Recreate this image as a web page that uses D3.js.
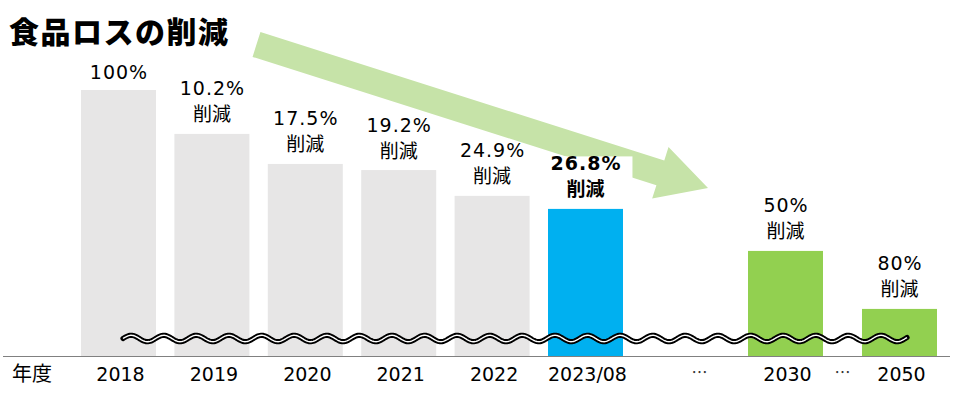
<!DOCTYPE html>
<html>
<head>
<meta charset="utf-8">
<script src="https://cdn.jsdelivr.net/npm/d3@7"></script>
<style>
  html, body { margin: 0; padding: 0; background: #fff; }
  svg { display: block; }
</style>
</head>
<body>
<svg id="chart" width="961" height="393"></svg>
<script>
// chart data
const categories = ["2018", "2019", "2020", "2021", "2022", "2023/08", "2030", "2050"];
const mainYears = ["2018", "2019", "2020", "2021", "2022", "2023/08"];
const tailYears = ["2030", "2050"];
// bar heights as drawn (index, 2018 = 100, the axis is broken)
const barIndex = [100, 83.5, 72.2, 69.9, 60.2, 55.3, 39.5, 17.7];
const labelTop = ["100%", "10.2%", "17.5%", "19.2%", "24.9%", "26.8%", "50%", "80%"];
const labelSub = ["", "削減", "削減", "削減", "削減", "削減", "削減", "削減"];
const barKind = ["past", "past", "past", "past", "past", "current", "target", "target"];
const title = "食品ロスの削減";
const axisTitle = "年度";
const gapMark = "…";

const colors = { past: "#e7e6e6", current: "#00b0f0", target: "#92d050" };
const latin = "'DejaVu Sans', 'Noto Sans CJK JP', sans-serif";
const cjk = "'Noto Sans CJK JP', sans-serif";

const svg = d3.select("#chart");
const baseY = 356;

// broken x axis: two band scales
const xMain = d3.scaleBand().domain(mainYears).range([81, 623]).paddingInner(0.197);
const xTail = d3.scaleBand().domain(tailYears).range([748, 937]).paddingInner(0.342);
const x = c => mainYears.includes(c) ? xMain(c) : xTail(c);
const bw = xMain.bandwidth();

const y = d3.scaleLinear().domain([0, 100]).range([baseY, 90]);

const rows = categories.map((c, i) => ({
  cat: c, v: barIndex[i], top: labelTop[i], sub: labelSub[i], kind: barKind[i]
}));

// title
svg.append("text")
  .attr("x", 9).attr("y", 43)
  .attr("font-family", cjk).attr("font-weight", 900)
  .attr("font-size", 30).attr("letter-spacing", 1.5)
  .attr("fill", "#000")
  .text(title);

// trend arrow (decoration)
const a0 = [256.5, 44.5], a1 = [708, 188];
const ang = Math.atan2(a1[1] - a0[1], a1[0] - a0[0]) * 180 / Math.PI;
const L = Math.hypot(a1[0] - a0[0], a1[1] - a0[1]);
const hw = 13, hh = 27, hl = 50;
svg.append("path")
  .attr("transform", `translate(${a0[0]},${a0[1]}) rotate(${ang})`)
  .attr("d", `M0,${-hw}L${L - hl},${-hw}L${L - hl},${-hh}L${L},0L${L - hl},${hh}L${L - hl},${hw}L0,${hw}Z`)
  .attr("fill", "#c6e3a8");

// bars
svg.append("g")
  .selectAll("rect")
  .data(rows)
  .join("rect")
    .attr("x", d => x(d.cat))
    .attr("y", d => y(d.v))
    .attr("width", bw)
    .attr("height", d => baseY - y(d.v))
    .attr("fill", d => colors[d.kind]);

// value labels with white boxes
const labels = svg.append("g");
rows.forEach(d => {
  const cx = x(d.cat) + bw / 2;
  const t = y(d.v);
  const bold = d.kind === "current";
  const g = labels.append("g");
  const box = g.append("rect").attr("fill", "#fff");
  const txt = g.append("text")
    .attr("text-anchor", "middle")
    .attr("font-size", 19)
    .attr("font-weight", bold ? 700 : 400)
    .attr("fill", "#000");
  if (d.sub) {
    txt.append("tspan").attr("x", cx + 0.5).attr("y", t - 38.5)
      .attr("font-family", latin).attr("letter-spacing", 1).text(d.top);
    txt.append("tspan").attr("x", cx).attr("y", t - 12.5)
      .attr("font-family", cjk).text(d.sub);
  } else {
    txt.append("tspan").attr("x", cx + 0.5).attr("y", t - 11)
      .attr("font-family", latin).attr("letter-spacing", 1).text(d.top);
  }
  const bb = txt.node().getBBox();
  const pad = bold ? 11 : 4;
  box.attr("x", bb.x - pad).attr("y", bb.y + (bold ? 4 : 6))
    .attr("width", bb.width + pad * 2)
    .attr("height", Math.max(0, t - bb.y - (bold ? 5 : 7)));
});

// wavy break line
const wx0 = 123, wx1 = 907, wy = 338.5, amp = 3.2, wl = 32.6;
const wave = d3.range(wx0, wx1 + 0.5, 1).map(px => [px, wy - amp * Math.sin(2 * Math.PI * (px - wx0) / wl)]);
const line = d3.line();
svg.append("path").attr("d", line(wave)).attr("fill", "none")
  .attr("stroke", "#000").attr("stroke-width", 5.2).attr("stroke-linecap", "round");
svg.append("path").attr("d", line(wave)).attr("fill", "none")
  .attr("stroke", "#fff").attr("stroke-width", 1.4);

// x axis
svg.append("line")
  .attr("x1", 3).attr("x2", 950)
  .attr("y1", baseY + 0.5).attr("y2", baseY + 0.5)
  .attr("stroke", "#808080").attr("stroke-width", 1);

[xMain, xTail].forEach(sc => {
  const ax = svg.append("g")
    .attr("transform", `translate(2,${baseY})`)
    .call(d3.axisBottom(sc).tickSize(0));
  ax.select(".domain").remove();
  ax.selectAll("text")
    .attr("y", 25).attr("dy", null)
    .attr("font-family", latin)
    .attr("font-size", 19)
    .attr("font-weight", 400)
    .attr("fill", "#000");
});

svg.append("text")
  .attr("x", 12).attr("y", 381)
  .attr("font-family", cjk).attr("font-size", 20)
  .attr("fill", "#000")
  .text(axisTitle);

// gap marks between broken segments
const gaps = [
  (x("2023/08") + bw / 2 + x("2030") + bw / 2) / 2 + 14,
  (x("2030") + bw / 2 + x("2050") + bw / 2) / 2
];
svg.append("g")
  .selectAll("text")
  .data(gaps)
  .join("text")
    .attr("x", d => d).attr("y", 378)
    .attr("text-anchor", "middle")
    .attr("font-family", cjk).attr("font-size", 16)
    .attr("fill", "#333")
    .text(gapMark);
</script>
</body>
</html>
